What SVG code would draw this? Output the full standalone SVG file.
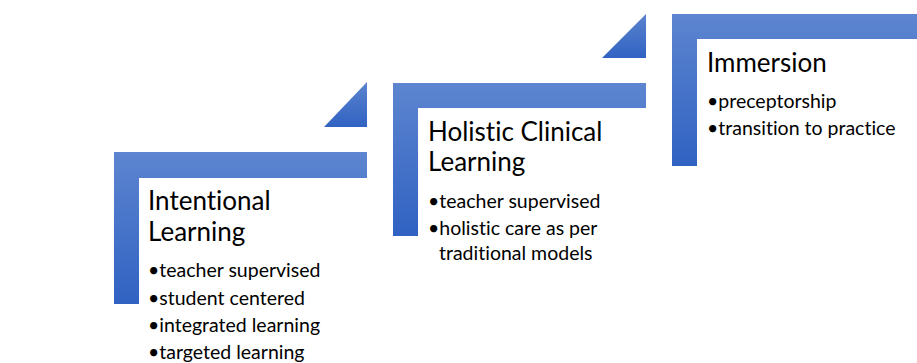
<svg xmlns="http://www.w3.org/2000/svg" width="917" height="363" viewBox="0 0 917 363">
<defs>
<linearGradient id="g" x1="0" y1="0" x2="0" y2="1">
<stop offset="0" stop-color="#5D85D0"/>
<stop offset="1" stop-color="#3062C2"/>
</linearGradient>
<linearGradient id="gt" x1="0" y1="0" x2="0" y2="1">
<stop offset="0" stop-color="#5B83CE"/>
<stop offset="1" stop-color="#3163C3"/>
</linearGradient>
<style>
.shape{fill:url(#g);}
.tri{fill:url(#gt);}
.title{font-family:Lato,"Liberation Sans",sans-serif;font-size:26px;fill:#000;font-variant-ligatures:none;}
.item{font-family:Lato,"Liberation Sans",sans-serif;font-size:19.5px;fill:#000;font-variant-ligatures:none;}
</style>
</defs>
<g id="connectors"></g>
<g id="step1">
<path class="shape" d="M114,152 H367 V178 H139 V304 H114 Z"/>
<path class="tri" d="M324,127 H367 V82 Z"/>
<text class="title" x="148" y="210">Intentional</text>
<text class="title" x="148" y="241">Learning</text>
<text class="item" x="148" y="277">•teacher supervised</text>
<text class="item" x="148" y="305">•student centered</text>
<text class="item" x="148" y="332">•integrated learning</text>
<text class="item" x="148" y="359">•targeted learning</text>
</g>
<g id="step2">
<path class="shape" d="M393,83 H646 V108 H418 V236 H393 Z"/>
<path class="tri" d="M602,58 H646 V14 Z"/>
<text class="title" x="428" y="141">Holistic Clinical</text>
<text class="title" x="428" y="171">Learning</text>
<text class="item" x="428" y="208">•teacher supervised</text>
<text class="item" x="428" y="235">•holistic care as per</text>
<text class="item" x="439" y="260">traditional models</text>
</g>
<g id="step3">
<path class="shape" d="M672,14 H917 V39 H697 V166 H672 Z"/>
<text class="title" x="707" y="72">Immersion</text>
<text class="item" x="707" y="108">•preceptorship</text>
<text class="item" x="707" y="135">•transition to practice</text>
</g>
</svg>
